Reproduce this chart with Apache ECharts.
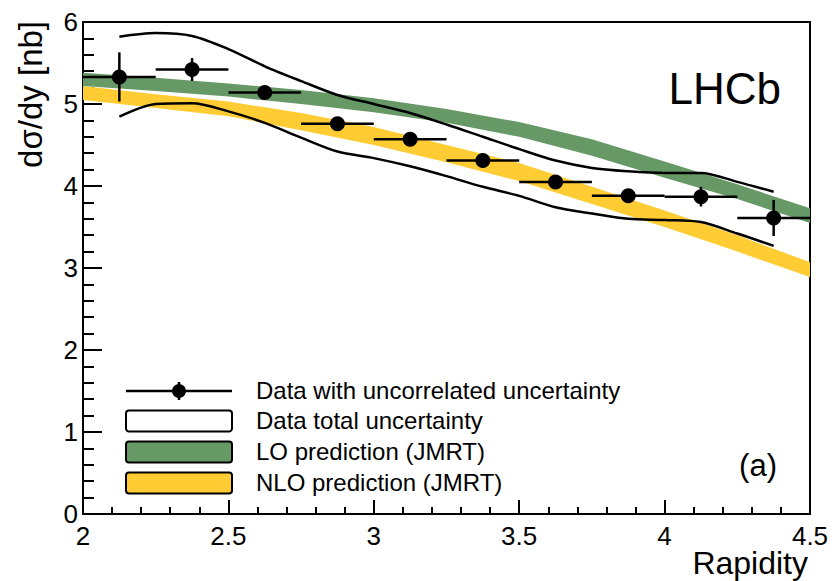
<!DOCTYPE html>
<html>
<head>
<meta charset="utf-8">
<script src="https://cdn.jsdelivr.net/npm/echarts@6/dist/echarts.min.js"></script>
<style>
  html, body { margin: 0; padding: 0; background: #fff; }
  #chart { width: 836px; height: 581px; }
</style>
</head>
<body>
<div id="chart"></div>
<script>
// Measured differential cross-section per rapidity bin (nb)
const binCenters   = [2.125, 2.375, 2.625, 2.875, 3.125, 3.375, 3.625, 3.875, 4.125, 4.375];
const crossSection = [5.33, 5.42, 5.14, 4.76, 4.57, 4.31, 4.05, 3.88, 3.87, 3.61];
const uncorrErr    = [0.30, 0.14, 0.06, 0.06, 0.06, 0.06, 0.06, 0.06, 0.12, 0.22];
const binHalfWidth = 0.125;

// Envelope of the total (correlated + uncorrelated) uncertainty
const totalX     = [2.125, 2.25, 2.375, 2.5, 2.625, 2.75, 2.875, 3.0, 3.125, 3.25, 3.375, 3.5, 3.625, 3.75, 3.875, 4.0, 4.125, 4.25, 4.375];
const totalUpper = [5.82, 5.865, 5.83, 5.67, 5.46, 5.28, 5.11, 5.00, 4.89, 4.75, 4.60, 4.45, 4.31, 4.22, 4.18, 4.16, 4.16, 4.05, 3.93];
const totalLower = [4.845, 5.00, 5.01, 4.91, 4.77, 4.59, 4.42, 4.34, 4.24, 4.12, 3.99, 3.88, 3.74, 3.665, 3.60, 3.585, 3.56, 3.42, 3.27];

// JMRT theory predictions (band edges)
const theoryX  = [2.0, 2.25, 2.5, 2.75, 3.0, 3.25, 3.5, 3.75, 4.0, 4.25, 4.5];
const loUpper  = [5.38, 5.32, 5.25, 5.17, 5.07, 4.94, 4.78, 4.57, 4.30, 4.02, 3.73];
const loLower  = [5.22, 5.16, 5.09, 5.00, 4.90, 4.77, 4.60, 4.37, 4.10, 3.84, 3.55];
const nloUpper = [5.22, 5.12, 5.03, 4.89, 4.72, 4.50, 4.28, 3.99, 3.70, 3.40, 3.07];
const nloLower = [5.05, 4.95, 4.85, 4.68, 4.50, 4.29, 4.06, 3.78, 3.50, 3.20, 2.89];

const legendLabels = [
  'Data with uncorrelated uncertainty',
  'Data total uncertainty',
  'LO prediction (JMRT)',
  'NLO prediction (JMRT)'
];

const FONT = '"Liberation Sans", Arial, Helvetica, sans-serif';
const GREEN = '#669966';
const YELLOW = '#ffcc33';

function bandSeries(xs, lo, hi, color) {
  const rows = xs.map((x, i) => [x, lo[i], hi[i]]);
  return {
    type: 'custom',
    data: rows,
    silent: true,
    z: 1,
    encode: { x: 0, y: [1, 2] },
    renderItem(params, api) {
      if (params.dataIndex !== 0) return null;
      const top = rows.map(r => api.coord([r[0], r[2]]));
      const bot = rows.map(r => api.coord([r[0], r[1]])).reverse();
      return {
        type: 'polygon',
        shape: { points: top.concat(bot) },
        style: { fill: color, stroke: null }
      };
    }
  };
}

function envelopeLine(values) {
  return {
    type: 'line',
    data: totalX.map((x, i) => [x, values[i]]),
    smooth: 0.3,
    showSymbol: false,
    silent: true,
    z: 3,
    lineStyle: { color: '#000', width: 2.5 }
  };
}

const chart = echarts.init(document.getElementById('chart'), null, { renderer: 'svg' });

const legendRowY = [391, 421, 452, 483];
const legendGraphics = [];
legendGraphics.push(
  { type: 'line', shape: { x1: 126, y1: legendRowY[0], x2: 232, y2: legendRowY[0] }, style: { stroke: '#000', lineWidth: 2.5 } },
  { type: 'line', shape: { x1: 179, y1: legendRowY[0] - 9, x2: 179, y2: legendRowY[0] + 9 }, style: { stroke: '#000', lineWidth: 2.5 } },
  { type: 'circle', shape: { cx: 179, cy: legendRowY[0], r: 7 }, style: { fill: '#000' } }
);
[['#ffffff', 1], [GREEN, 2], [YELLOW, 3]].forEach(([fill, row]) => {
  legendGraphics.push({
    type: 'rect',
    shape: { x: 126, y: legendRowY[row] - 10.5, width: 106, height: 21, r: 3 },
    style: { fill: fill, stroke: '#000', lineWidth: 2 }
  });
});
legendLabels.forEach((t, i) => {
  legendGraphics.push({
    type: 'text', x: 256, y: legendRowY[i] - 0.5,
    style: { text: t, fill: '#000', font: '24px ' + FONT, align: 'left', verticalAlign: 'middle' }
  });
});

chart.setOption({
  animation: false,
  backgroundColor: '#fff',
  grid: {
    left: 83, right: 26, top: 22, bottom: 67,
    show: true, borderColor: '#000', borderWidth: 2, backgroundColor: 'transparent',
    outerBoundsMode: 'none'
  },
  xAxis: {
    type: 'value', min: 2, max: 4.5, interval: 0.5,
    axisLine: { show: true, lineStyle: { color: '#000', width: 2 } },
    axisTick: { show: true, inside: true, length: 14, lineStyle: { color: '#000', width: 2 } },
    minorTick: { show: true, splitNumber: 5, length: 7, lineStyle: { color: '#000', width: 2 } },
    splitLine: { show: false },
    axisLabel: { color: '#000', fontSize: 26, fontFamily: FONT, lineHeight: 20, margin: 12 }
  },
  yAxis: {
    type: 'value', min: 0, max: 6, interval: 1,
    axisLine: { show: true, lineStyle: { color: '#000', width: 2 } },
    axisTick: { show: true, inside: true, length: 19, lineStyle: { color: '#000', width: 2 } },
    minorTick: { show: true, splitNumber: 5, length: 11, lineStyle: { color: '#000', width: 2 } },
    splitLine: { show: false },
    axisLabel: { color: '#000', fontSize: 26, fontFamily: FONT, margin: 5 }
  },
  series: [
    bandSeries(theoryX, nloLower, nloUpper, YELLOW),
    bandSeries(theoryX, loLower, loUpper, GREEN),
    envelopeLine(totalUpper),
    envelopeLine(totalLower),
    {
      type: 'custom',
      data: binCenters.map((x, i) => [x, crossSection[i], uncorrErr[i]]),
      silent: true,
      z: 4,
      encode: { x: 0, y: 1 },
      renderItem(params, api) {
        const x = api.value(0), y = api.value(1), e = api.value(2);
        const l = api.coord([x - binHalfWidth, y]);
        const r = api.coord([x + binHalfWidth, y]);
        const t = api.coord([x, y + e]);
        const b = api.coord([x, y - e]);
        const st = { stroke: '#000', lineWidth: 2.5 };
        return {
          type: 'group',
          children: [
            { type: 'line', shape: { x1: l[0], y1: l[1], x2: r[0], y2: r[1] }, style: st },
            { type: 'line', shape: { x1: t[0], y1: t[1], x2: b[0], y2: b[1] }, style: st }
          ]
        };
      }
    },
    {
      type: 'scatter',
      data: binCenters.map((x, i) => [x, crossSection[i]]),
      symbol: 'circle',
      symbolSize: 15,
      silent: true,
      z: 5,
      itemStyle: { color: '#000', opacity: 1 }
    }
  ],
  graphic: [
    {
      type: 'text', x: 30, y: 21, rotation: Math.PI / 2,
      style: { text: 'dσ/dy [nb]', fill: '#000', font: '33px ' + FONT, align: 'right', verticalAlign: 'middle' }
    },
    {
      type: 'text', x: 808, y: 563,
      style: { text: 'Rapidity', fill: '#000', font: '32px ' + FONT, lineHeight: 28, align: 'right', verticalAlign: 'middle' }
    },
    {
      type: 'text', x: 781, y: 88,
      style: { text: 'LHCb', fill: '#000', font: '44px ' + FONT, align: 'right', verticalAlign: 'middle' }
    },
    {
      type: 'text', x: 777, y: 465,
      style: { text: '(a)', fill: '#000', font: '31px ' + FONT, align: 'right', verticalAlign: 'middle' }
    }
  ].concat(legendGraphics)
});
</script>
</body>
</html>
